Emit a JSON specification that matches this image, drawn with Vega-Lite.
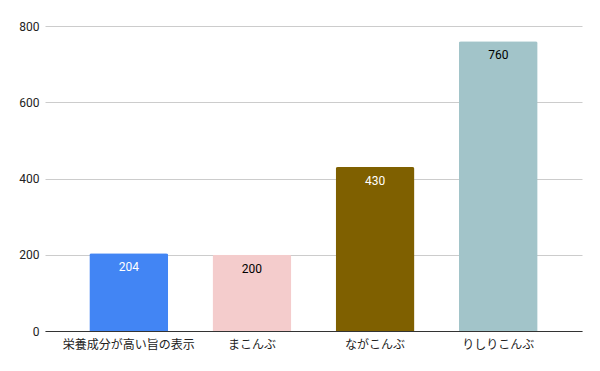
{
  "$schema": "https://vega.github.io/schema/vega-lite/v6.json",
  "width": 537,
  "height": 305,
  "autosize": {"type": "none"},
  "padding": {"left": 45, "top": 26, "right": 18, "bottom": 40},
  "background": "white",
  "config": {
    "view": {"stroke": null},
    "font": "Roboto",
    "axis": {"labelFont": "Roboto", "labelFontSize": 12, "labelColor": "#222222", "labelFontWeight": "normal"}
  },
  "data": {
    "values": [
      {"category": "栄養成分が高い旨の表示", "value": 204},
      {"category": "まこんぶ", "value": 200},
      {"category": "ながこんぶ", "value": 430},
      {"category": "りしりこんぶ", "value": 760}
    ]
  },
  "encoding": {
    "x": {
      "field": "category",
      "type": "nominal",
      "sort": null,
      "scale": {"paddingInner": 0.36, "paddingOuter": 0.36},
      "axis": {
        "title": null,
        "labelAngle": 0,
        "ticks": false,
        "domainColor": "#333333",
        "labelPadding": 8,
        "labelFont": "Noto Sans CJK JP",
        "labelFontSize": 12
      }
    },
    "y": {
      "field": "value",
      "type": "quantitative",
      "scale": {"domain": [0, 800], "nice": false},
      "axis": {
        "title": null,
        "values": [0, 200, 400, 600, 800],
        "domain": false,
        "ticks": false,
        "labelPadding": 6,
        "gridColor": "#cccccc"
      }
    }
  },
  "layer": [
    {
      "mark": {"type": "bar", "cornerRadiusTopLeft": 2, "cornerRadiusTopRight": 2},
      "encoding": {
        "color": {
          "field": "category",
          "type": "nominal",
          "legend": null,
          "scale": {
            "domain": ["栄養成分が高い旨の表示", "まこんぶ", "ながこんぶ", "りしりこんぶ"],
            "range": ["#4285f4", "#f4cccc", "#7f6000", "#a2c4c9"]
          }
        }
      }
    },
    {
      "mark": {"type": "text", "baseline": "top", "dy": 9, "fontSize": 12, "font": "Roboto", "fontWeight": "normal"},
      "encoding": {
        "text": {"field": "value", "type": "quantitative"},
        "color": {
          "condition": {"test": "datum.category === '栄養成分が高い旨の表示' || datum.category === 'ながこんぶ'", "value": "#ffffff"},
          "value": "#000000"
        }
      }
    }
  ]
}
